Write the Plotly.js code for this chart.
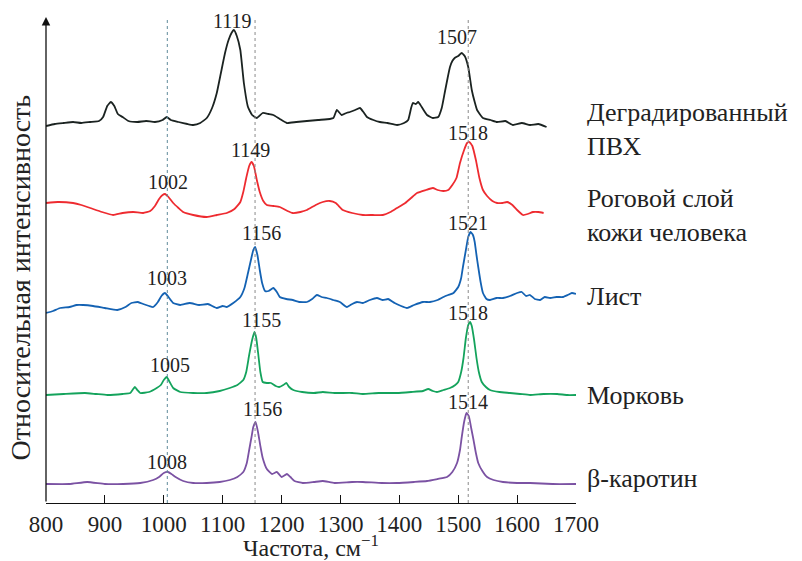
<!DOCTYPE html>
<html>
<head>
<meta charset="utf-8">
<script src="https://cdn.plot.ly/plotly-3.0.1.min.js"></script>
<style>html,body{margin:0;padding:0;background:#fff;}#chart{width:802px;height:561px;}</style>
</head>
<body>
<div id="chart"></div>
<script>
// Wavenumber (cm^-1) and offset relative intensity (arbitrary units)
const pvcX = [800,815,830,846,860,875,890,897,904,910,916,922,930,940,955,970,985,998,1005,1012,1025,1040,1050,1062,1073,1082,1090,1097,1104,1110,1115,1119,1124,1130,1136,1143,1150,1158,1168,1178,1186,1197,1209,1225,1243,1262,1282,1288,1294,1302,1310,1316,1325,1333,1339,1345,1356,1367,1380,1396,1408,1415,1420,1423,1428,1432,1438,1447,1457,1466,1472,1477,1482,1486,1490,1494,1500,1506,1511,1517,1523,1528,1532,1542,1555,1566,1580,1593,1608,1622,1636,1650];
const pvcY = [377,379,380,381,380,381,382,386,397,401,397,389,386,382,381,382,381,383,386,383,381,379,378,380,385,395,410,430,450,463,470,473,467,453,420,396,388,385,390,389,388,384,380,381,382,383,384,385,393,388,390,391,393,395,391,386,383,381,380,378,380,383,395,400,399,401,396,388,385,386,395,410,425,436,442,445,447,450,447,436,413,401,393,385,383,381,382,378,380,378,379,376];

const skinX = [800,820,846,860,875,895,914,930,948,965,977,985,992,998,1002,1008,1016,1025,1033,1050,1073,1090,1107,1120,1130,1135,1140,1145,1149,1153,1158,1163,1169,1175,1186,1197,1210,1219,1232,1243,1258,1270,1282,1292,1304,1320,1338,1355,1372,1385,1396,1410,1420,1430,1445,1457,1465,1475,1483,1490,1497,1503,1510,1515,1519,1524,1530,1536,1542,1549,1558,1566,1575,1583,1592,1600,1610,1618,1627,1636,1645];
const skinY = [300,301,300,298,295,291,288,290,291,290,292,297,304,308,309,306,300,295,291,288,286,288,290,294,301,311,325,337,341,337,323,311,302,298,297,296,292,290,291,293,298,301,302,300,293,290,288,288,288,291,295,300,305,310,313,315,313,312,313,318,325,340,353,360,361,357,343,325,313,307,302,300,300,301,298,293,288,289,291,291,290];

const leafX = [800,812,824,840,852,863,880,900,921,935,945,956,965,975,982,990,996,1002,1008,1016,1028,1044,1060,1075,1090,1100,1107,1118,1130,1137,1143,1148,1152,1155,1159,1163,1167,1172,1178,1186,1192,1197,1208,1219,1230,1243,1252,1260,1268,1277,1288,1299,1311,1320,1328,1338,1350,1362,1372,1381,1392,1403,1413,1425,1440,1452,1465,1475,1483,1492,1500,1505,1508,1513,1517,1521,1525,1528,1531,1534,1538,1542,1548,1554,1565,1576,1588,1600,1608,1615,1622,1630,1639,1647,1656,1667,1678,1686,1693,1700];
const leafY = [190,192,195,196,198,198,197,195,193,196,200,201,199,197,196,201,207,210,206,200,198,200,198,199,195,197,196,200,206,215,230,243,253,256,248,233,220,212,212,215,211,206,204,203,201,201,204,208,206,205,203,201,196,199,201,200,203,205,203,204,200,197,195,198,201,201,203,206,208,210,216,225,236,253,266,271,268,261,248,236,221,210,204,203,205,205,207,210,211,207,208,204,203,206,205,206,206,208,210,209];

const carrotX = [800,830,866,885,904,930,943,948,951,955,960,975,988,995,1000,1005,1010,1016,1028,1050,1073,1095,1112,1125,1135,1140,1145,1150,1154,1157,1160,1164,1168,1175,1182,1190,1196,1203,1208,1213,1220,1235,1255,1270,1290,1320,1338,1365,1396,1420,1440,1449,1457,1464,1475,1486,1495,1500,1505,1509,1513,1517,1520,1523,1527,1531,1535,1540,1547,1554,1570,1588,1605,1622,1645,1668,1685,1700];
const carrotY = [108,109,110,109,108,109,110,114,116,113,110,111,115,118,123,126,121,115,111,110,110,112,115,118,123,131,148,163,171,165,151,131,121,120,120,117,116,118,120,116,113,111,110,111,110,110,109,110,110,111,112,114,112,111,113,115,118,121,131,145,165,178,181,177,163,145,131,121,116,113,111,110,109,108,109,109,108,108];

const caroteneX = [800,840,870,900,931,960,982,992,1000,1007,1013,1020,1033,1050,1073,1095,1112,1125,1135,1141,1145,1149,1152,1156,1160,1164,1168,1175,1184,1192,1200,1209,1215,1222,1236,1255,1270,1290,1320,1338,1370,1396,1425,1447,1465,1481,1490,1498,1503,1506,1510,1514,1518,1522,1526,1530,1534,1541,1549,1560,1576,1600,1622,1660,1700];
const caroteneY = [19,19,21,19,19,20,23,26,30,31,29,26,22,20,20,21,23,26,31,40,53,66,76,81,71,57,45,34,29,31,26,29,26,22,20,21,22,20,21,21,20,20,21,22,24,26,31,40,53,66,81,90,87,75,63,50,40,32,26,23,21,20,20,19,19];

const seriesNames = ["Деградированный<br>ПВХ", "Роговой слой<br>кожи человека", "Лист", "Морковь", "β-каротин"];
const peakLabels = ["1119","1507","1002","1149","1518","1003","1156","1521","1155","1518","1005","1156","1008","1514"];
const guideLines = [1006, 1155, 1517];
const xTicks = [800,900,1000,1100,1200,1300,1400,1500,1600,1700];

const colors = ["#1b2321", "#ee2b30", "#1462b3", "#14a35c", "#7b52a3"];
const xs = [pvcX, skinX, leafX, carrotX, caroteneX];
const ys = [pvcY, skinY, leafY, carrotY, caroteneY];

const traces = xs.map((x, i) => ({
  x: x, y: ys[i], type: "scatter", mode: "lines",
  line: {color: colors[i], width: 1.8, shape: "spline", smoothing: 0.4},
  hoverinfo: "skip", showlegend: false
}));

const FONT = '"Liberation Serif", "Times New Roman", serif';

// peak label placement (x in cm^-1 at label centre, y at label centre)
const peakPos = [[1117,482],[1498,466],[1007,321],[1148,353],[1516,370],[1005,225],[1166,270],[1516,280],[1166,183],[1516,190],[1011,138],[1168,94],[1005,41],[1516,101]];
const annotations = peakLabels.map((t, i) => ({
  x: peakPos[i][0], y: peakPos[i][1], xref: "x", yref: "y", text: t, showarrow: false,
  xanchor: "center", yanchor: "middle", font: {family: FONT, size: 20, color: "#222"}
}));

const namePos = [[374, 2], [288, 2], [207, 1], [108, 1], [25, 1]];
seriesNames.forEach((t, i) => {
  annotations.push({
    x: 1.017, xref: "paper", y: namePos[i][0], yref: "y", text: t, showarrow: false,
    xanchor: "left", yanchor: "middle", align: "left",
    font: {family: FONT, size: 26, color: "#222"}
  });
});

// y axis arrow
annotations.push({
  x: 800, y: 486, xref: "x", yref: "y", ax: 800, ay: 0, axref: "x", ayref: "y",
  text: "", showarrow: true, arrowhead: 2, arrowsize: 1.3, arrowwidth: 1.3, arrowcolor: "#111", standoff: 0
});
// y title
annotations.push({
  x: -0.05, xref: "paper", y: 225, yref: "y", text: "Относительная интенсивность",
  textangle: -90, showarrow: false, xanchor: "center", yanchor: "middle",
  font: {family: FONT, size: 28, color: "#222"}
});
// x title
annotations.push({
  x: 0.5, xref: "paper", y: -0.087, yref: "paper", text: "Частота, см<sup>−1</sup>",
  showarrow: false, xanchor: "center", yanchor: "middle",
  font: {family: FONT, size: 24, color: "#222"}
});

const shapes = guideLines.map((g, i) => ({
  type: "line", xref: "x", yref: "y", x0: g, x1: g, y0: 0, y1: 485,
  line: {color: i === 0 ? "#5f8a9a" : "#8a8a8a", width: 1, dash: "dot"}
}));

const layout = {
  width: 802, height: 561,
  margin: {l: 46, r: 226, t: 13, b: 58},
  paper_bgcolor: "#fff", plot_bgcolor: "#fff",
  font: {family: FONT, color: "#222"},
  xaxis: {
    range: [800, 1700], tickvals: xTicks, ticktext: xTicks.map(String),
    ticks: "inside", ticklen: 8, tickwidth: 1.2, tickcolor: "#111",
    showline: true, linecolor: "#111", linewidth: 1.3, showgrid: false, zeroline: false,
    tickfont: {family: FONT, size: 23, color: "#222"}
  },
  yaxis: {
    range: [0, 490], showticklabels: false, ticks: "", showgrid: false, zeroline: false, showline: false
  },
  annotations: annotations,
  shapes: shapes
};

Plotly.newPlot("chart", traces, layout, {displayModeBar: false, staticPlot: true});
</script>
</body>
</html>
